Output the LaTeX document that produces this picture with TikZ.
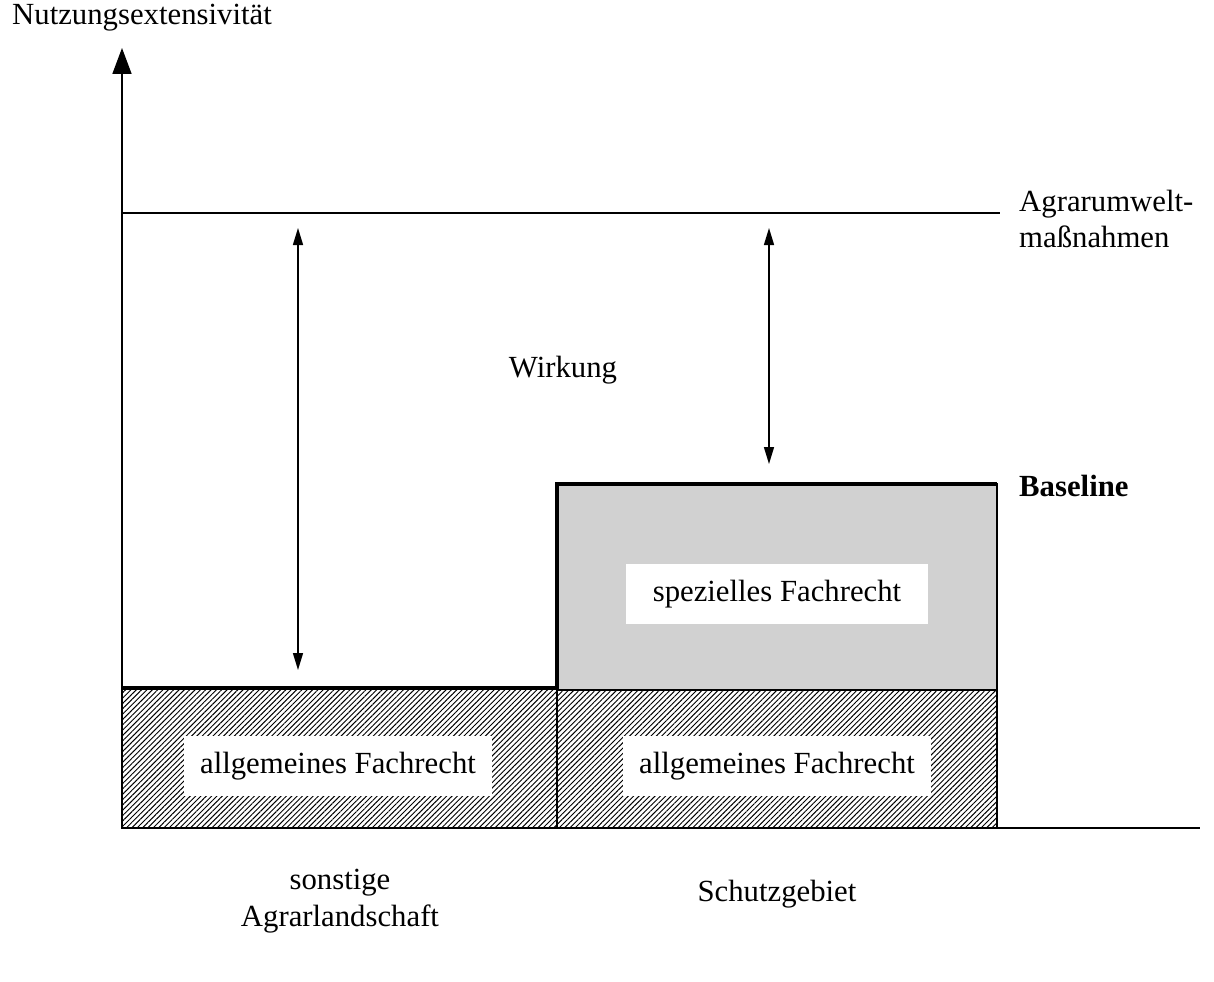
\documentclass[tikz,border=0pt]{standalone}
\usepackage{fontspec}
\setmainfont{Liberation Serif}
\usetikzlibrary{arrows.meta,patterns.meta}

\begin{document}
\begin{tikzpicture}[
		x=0.02cm, y=-0.02cm,
		font=\fontsize{17.5}{21}\selectfont,
		axis/.style={line width=1pt, -{Triangle[length=0.52cm,width=0.38cm]}},
		effect/.style={line width=0.8pt, {Triangle[length=0.34cm,width=0.2cm]}-{Triangle[length=0.34cm,width=0.2cm]}},
		hatched/.style={pattern={Lines[angle=45, distance=2.15pt, line width=0.55pt]}, draw=black, line width=0.6pt},
		special/.style={fill=black!18, draw=black, line width=0.6pt},
		baseline/.style={line width=2pt},
		label/.style={fill=white, inner xsep=9pt, inner ysep=9pt},
		]
		\useasboundingbox (0,0) rectangle (1214,981);
		
		% Draw hatched and shaded areas
		\draw[hatched] (122,688) rectangle (557,828);
		\draw[hatched] (557,690) rectangle (997,828);
		\draw[special] (557,484) rectangle (997,690);
		
		% Draw baselines
		\draw[baseline] (122,688) -- (557,688) -- (557,484) -- (997,484);
		
		% Draw axes
		\draw[line width=1pt] (122,828) -- (1200,828);
		\draw[axis] (122,828) -- (122,48);
		\node[anchor=west] (yaxis) at (6,18) {Nutzungsextensivität};
		
		% Agri-environment level
		\draw[line width=0.8pt] (122,213) -- (1000,213);
		\node[anchor=west, align=left] (aum) at (1013,219) {Agrarumwelt-\\maßnahmen};
		
		% Draw effect arrows
		\coordinate (lt) at (298,228);
		\coordinate (lb) at (298,670);
		\coordinate (rt) at (769,228);
		\coordinate (rb) at (769,464);
		\draw[effect] (lt) -- (lb);
		\draw[effect] (rt) -- (rb);
		\node (wirkung) at (563,370) {Wirkung};
		\node[anchor=west, font=\fontsize{17.5}{21}\selectfont\bfseries] (baseline) at (1013,486) {Baseline};
		
		% Add labels for areas
		\node[label, inner xsep=15pt] (spez) at (777,594) {spezielles Fachrecht};
		\node[label] (allgl) at (338,766) {allgemeines Fachrecht};
		\node[label] (allgr) at (777,766) {allgemeines Fachrecht};
		\node[align=center] (sonst) at (340,901) {sonstige\\Agrarlandschaft};
		\node (schutz) at (777,894) {Schutzgebiet};
		
	\end{tikzpicture}
\end{document}
